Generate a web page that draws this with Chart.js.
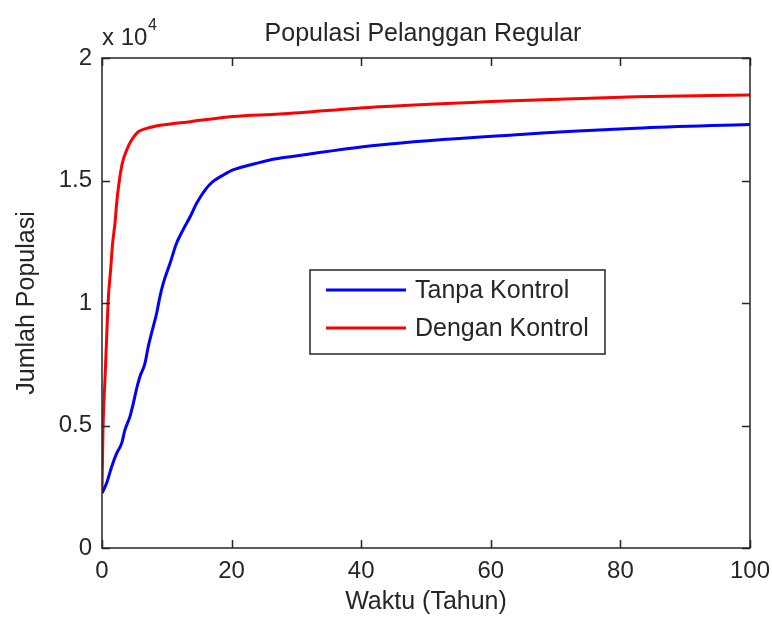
<!DOCTYPE html>
<html>
<head>
<meta charset="utf-8">
<title>Populasi Pelanggan Regular</title>
<script src="https://cdn.jsdelivr.net/npm/chart.js@4.4.0/dist/chart.umd.min.js"></script>
<style>
  html, body { margin: 0; padding: 0; background: #fff; }
  #wrap { width: 772px; height: 619px; }
</style>
</head>
<body>
<div id="wrap"><canvas id="populasiChart" width="772" height="619"></canvas></div>
<script>
// Values (time in years, population in persons)
const timeTanpa = [0, 0.72, 1.49, 2.26, 3.03, 3.54, 4.31, 4.83, 5.34, 5.86, 6.63, 7.14, 7.9, 8.43, 8.94, 9.45,
                   10.5, 11.5, 12.5, 13.6, 14.6, 15.9, 17.1, 18.7, 20.2, 22.8, 25.9, 29, 42.8, 63.4, 82.4, 100];
const popTanpa = [2240, 2650, 3320, 3860, 4270, 4820, 5360, 5900, 6500, 7000, 7540, 8220, 9030, 9580, 10260, 10800,
                  11620, 12440, 12980, 13520, 14070, 14610, 14950, 15220, 15430, 15630, 15840, 15970, 16450, 16860, 17130, 17290];

const timeDengan = [0, 0.15, 0.46, 0.72, 0.98, 1.33, 1.64, 2.0, 2.26, 2.62, 3.13, 3.8, 4.57, 5.6, 6.9, 9.45,
                    13.6, 20.2, 27.4, 42.8, 63.4, 82.4, 100];
const popDengan = [2240, 4800, 6900, 8600, 10200, 11350, 12440, 13250, 14070, 14890, 15700, 16240, 16650, 16990, 17130, 17270,
                   17400, 17610, 17710, 18010, 18260, 18420, 18490];

const seriesLabels = ["Tanpa Kontrol", "Dengan Kontrol"];
const xTicks = [0, 20, 40, 60, 80, 100];
const yTicks = [0, 5000, 10000, 15000, 20000];
const yTickLabels = ["0", "0.5", "1", "1.5", "2"];

const FONT = "Liberation Sans, Arial, Helvetica, sans-serif";
const TEXT = "#262626";

function toPoints(xs, ys) {
    return xs.map((x, i) => ({ x: x, y: ys[i] }));
}

// MATLAB style box, inward ticks, title, exponent and legend
const matlabAxes = {
    id: "matlabAxes",
    afterDraw(chart) {
        const { ctx, chartArea: a, scales } = chart;
        const tl = 8;
        ctx.save();

        ctx.strokeStyle = TEXT;
        ctx.lineWidth = 1.5;
        ctx.beginPath();
        xTicks.forEach(v => {
            const px = Math.round(scales.x.getPixelForValue(v)) + 0.5;
            ctx.moveTo(px, a.bottom); ctx.lineTo(px, a.bottom - tl);
            ctx.moveTo(px, a.top); ctx.lineTo(px, a.top + tl);
        });
        yTicks.forEach(v => {
            const py = Math.round(scales.y.getPixelForValue(v)) + 0.5;
            ctx.moveTo(a.left, py); ctx.lineTo(a.left + tl, py);
            ctx.moveTo(a.right, py); ctx.lineTo(a.right - tl, py);
        });
        ctx.stroke();
        ctx.strokeRect(a.left, a.top, a.right - a.left, a.bottom - a.top);

        // title
        ctx.fillStyle = TEXT;
        ctx.textAlign = "center";
        ctx.textBaseline = "alphabetic";
        ctx.font = "25px " + FONT;
        ctx.fillText("Populasi Pelanggan Regular", 423, 41);

        // exponent label
        ctx.textAlign = "left";
        ctx.font = "24px " + FONT;
        ctx.fillText("x 10", 102, 45);
        ctx.font = "16px " + FONT;
        ctx.fillText("4", 148, 30);

        // legend
        const box = { x: 310, y: 270, w: 295, h: 84 };
        ctx.fillStyle = "#fff";
        ctx.fillRect(box.x, box.y, box.w, box.h);
        ctx.strokeStyle = TEXT;
        ctx.lineWidth = 1.5;
        ctx.strokeRect(box.x, box.y, box.w, box.h);
        ctx.font = "25px " + FONT;
        ctx.textBaseline = "middle";
        chart.data.datasets.forEach((ds, i) => {
            const y = 290 + i * 38;
            ctx.strokeStyle = ds.borderColor;
            ctx.lineWidth = 3;
            ctx.beginPath();
            ctx.moveTo(326, y); ctx.lineTo(406, y);
            ctx.stroke();
            ctx.fillStyle = TEXT;
            ctx.fillText(ds.label, 415, y + 1);
        });
        ctx.restore();
    }
};

const ctx = document.getElementById("populasiChart").getContext("2d");

new Chart(ctx, {
    type: "line",
    data: {
        datasets: [{
            label: seriesLabels[0],
            data: toPoints(timeTanpa, popTanpa),
            borderColor: "#0000ff",
            borderWidth: 3,
            pointRadius: 0,
            cubicInterpolationMode: "monotone"
        }, {
            label: seriesLabels[1],
            data: toPoints(timeDengan, popDengan),
            borderColor: "#ff0000",
            borderWidth: 3,
            pointRadius: 0,
            cubicInterpolationMode: "monotone"
        }]
    },
    options: {
        responsive: false,
        animation: false,
        devicePixelRatio: 1,
        layout: { padding: { top: 58, right: 22, left: 0, bottom: 0 } },
        plugins: {
            legend: { display: false },
            title: { display: false },
            tooltip: { enabled: false }
        },
        scales: {
            x: {
                type: "linear",
                min: 0,
                max: 100,
                afterFit: scale => {
                    scale.height = 71;
                    scale.paddingLeft = 0;
                    scale.paddingRight = 0;
                },
                afterBuildTicks: scale => { scale.ticks = xTicks.map(v => ({ value: v })); },
                grid: { display: false, drawTicks: false },
                border: { display: false },
                ticks: { color: TEXT, font: { family: FONT, size: 24 }, padding: 9, maxRotation: 0 },
                title: {
                    display: true,
                    text: "Waktu (Tahun)",
                    color: TEXT,
                    font: { family: FONT, size: 25 },
                    padding: { top: 0, bottom: 2 }
                }
            },
            y: {
                type: "linear",
                min: 0,
                max: 20000,
                afterFit: scale => {
                    scale.width = 102;
                    scale.paddingTop = 0;
                    scale.paddingBottom = 0;
                },
                afterBuildTicks: scale => { scale.ticks = yTicks.map(v => ({ value: v })); },
                grid: { display: false, drawTicks: false },
                border: { display: false },
                ticks: {
                    color: TEXT,
                    font: { family: FONT, size: 24 },
                    padding: 10,
                    callback: value => yTickLabels[yTicks.indexOf(value)]
                },
                title: {
                    display: true,
                    text: "Jumlah Populasi",
                    color: TEXT,
                    font: { family: FONT, size: 25 },
                    padding: { top: 12, bottom: 0 }
                }
            }
        }
    },
    plugins: [matlabAxes]
});
</script>
</body>
</html>
